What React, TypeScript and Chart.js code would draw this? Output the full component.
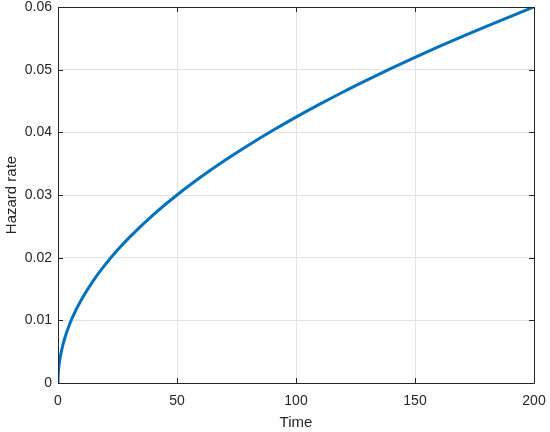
import React, { useEffect, useRef } from "react";
import { Chart, registerables } from "chart.js";

Chart.register(...registerables);

const timePoints = [0, 0.1, 0.5, 1, 2, 3, 5, 7.5, 10, 15, 20, 25, 30, 40, 50, 60, 70, 80, 90, 100, 110, 120, 130, 140, 150, 160, 170, 180, 190, 200];
const hazardRate = [0, 0.00134, 0.003, 0.00424, 0.006, 0.00735, 0.00949, 0.01162, 0.01342, 0.01643, 0.01897, 0.02121, 0.02324, 0.02683, 0.03, 0.03286, 0.0355, 0.03795, 0.04025, 0.04243, 0.0445, 0.04648, 0.04837, 0.0502, 0.05196, 0.05367, 0.05532, 0.05692, 0.05848, 0.06];
const xTicks = [0, 50, 100, 150, 200];
const yTicks = [0, 0.01, 0.02, 0.03, 0.04, 0.05, 0.06];

const FONT = "'Liberation Sans', Arial, Helvetica, sans-serif";
const AXIS = "#262626";

const framePlugin = {
  id: "matlabFrame",
  afterDraw(chart: any) {
    const { ctx, chartArea } = chart;
    const { left, right, top, bottom } = chartArea;
    const xs = chart.scales.x;
    const ys = chart.scales.y;
    ctx.save();
    ctx.strokeStyle = AXIS;
    ctx.lineWidth = 1;
    ctx.beginPath();
    ctx.rect(Math.round(left) + 0.5, Math.round(top) + 0.5, Math.round(right - left), Math.round(bottom - top));
    ctx.stroke();
    const len = 5;
    ctx.beginPath();
    xTicks.forEach((v) => {
      const px = Math.round(xs.getPixelForValue(v)) + 0.5;
      ctx.moveTo(px, bottom);
      ctx.lineTo(px, bottom - len);
      ctx.moveTo(px, top);
      ctx.lineTo(px, top + len);
    });
    yTicks.forEach((v) => {
      const py = Math.round(ys.getPixelForValue(v)) + 0.5;
      ctx.moveTo(left, py);
      ctx.lineTo(left + len, py);
      ctx.moveTo(right, py);
      ctx.lineTo(right - len, py);
    });
    ctx.stroke();
    ctx.restore();
  },
};

export default function App() {
  const ref = useRef<HTMLCanvasElement | null>(null);
  useEffect(() => {
    if (!ref.current) return;
    const chart = new Chart(ref.current, {
      type: "line",
      data: {
        datasets: [
          {
            data: timePoints.map((t, i) => ({ x: t, y: hazardRate[i] })),
            borderColor: "#0072BD",
            borderWidth: 3,
            pointRadius: 0,
            fill: false,
            cubicInterpolationMode: "monotone",
          },
        ],
      },
      options: {
        responsive: false,
        animation: false,
        layout: { padding: { left: 0, top: 7, right: 16, bottom: 0 } },
        plugins: { legend: { display: false }, tooltip: { enabled: false } },
        scales: {
          x: {
            type: "linear",
            min: 0,
            max: 200,
            afterBuildTicks: (s: any) => {
              s.ticks = xTicks.map((v) => ({ value: v }));
            },
            afterFit: (s: any) => {
              s.height = 49;
              s.paddingLeft = 0;
              s.paddingRight = 0;
            },
            border: { display: false },
            grid: { color: "#e3e3e3", drawTicks: false, lineWidth: 1 },
            ticks: { padding: 10, color: AXIS, font: { family: FONT, size: 14 }, maxRotation: 0 },
            title: { display: true, text: "Time", color: AXIS, font: { family: FONT, size: 15 }, padding: { top: 4, bottom: 0 } },
          },
          y: {
            type: "linear",
            min: 0,
            max: 0.06,
            afterBuildTicks: (s: any) => {
              s.ticks = yTicks.map((v) => ({ value: v }));
            },
            afterFit: (s: any) => {
              s.width = 58;
              s.paddingTop = 0;
              s.paddingBottom = 0;
            },
            border: { display: false },
            grid: { color: "#e3e3e3", drawTicks: false, lineWidth: 1 },
            ticks: {
              padding: 6,
              color: AXIS,
              font: { family: FONT, size: 14 },
              callback: (v: any) => String(Math.round(Number(v) * 100) / 100),
            },
            title: { display: true, text: "Hazard rate", color: AXIS, font: { family: FONT, size: 15 }, padding: { top: 3, bottom: 0 } },
          },
        },
      },
      plugins: [framePlugin],
    });
    return () => chart.destroy();
  }, []);
  return (
    <div style={{ position: "fixed", left: 0, top: 0, width: 550, height: 432, background: "#fff" }}>
      <canvas ref={ref} width={550} height={432} style={{ display: "block", width: 550, height: 432 }} />
    </div>
  );
}
